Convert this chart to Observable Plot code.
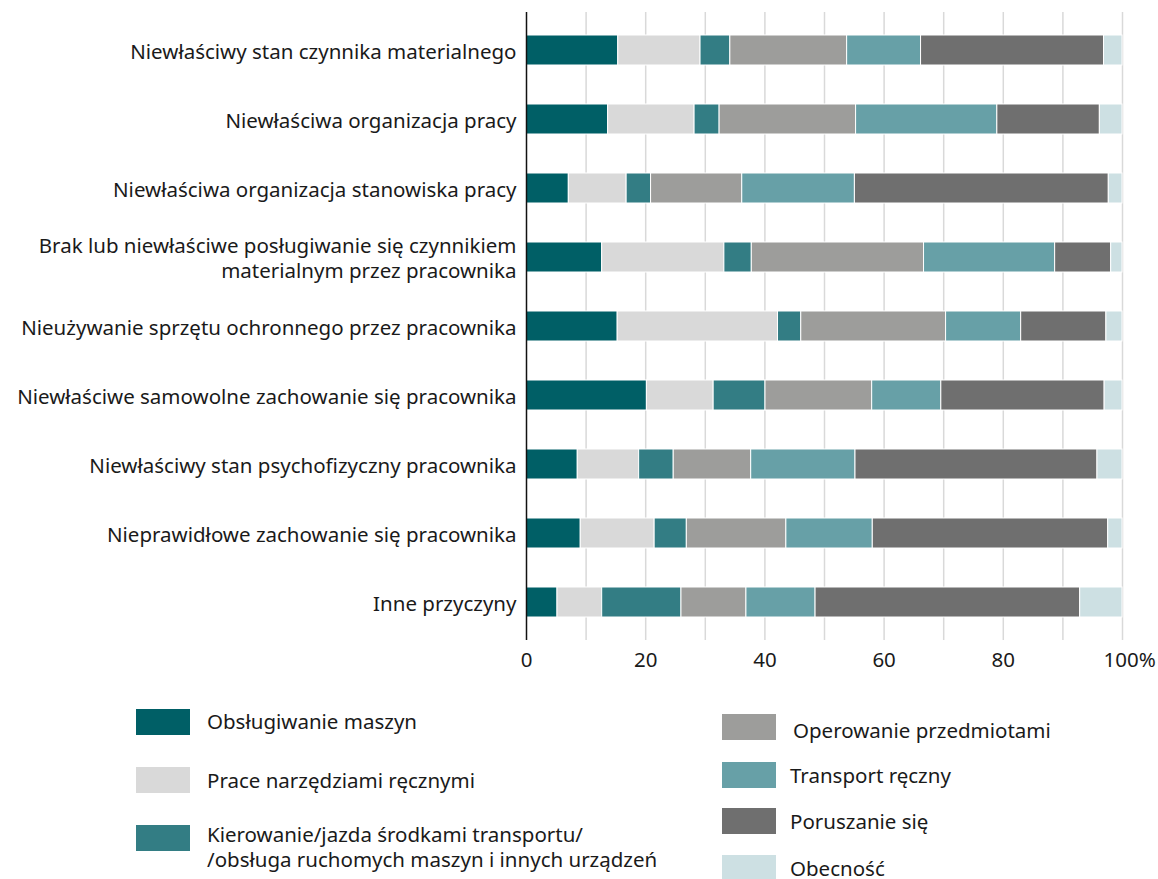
<!DOCTYPE html>
<html><head><meta charset="utf-8">
<script src="https://cdn.jsdelivr.net/npm/d3@7"></script>
<script src="https://cdn.jsdelivr.net/npm/@observablehq/plot@0.6"></script>
<style>
body{margin:0;background:#fff;font-family:"Noto Sans",sans-serif;color:#1a1a1a}
#wrap{position:relative;width:1158px;height:879px;overflow:hidden}
#chart{position:absolute;left:0;top:0}
.sw{position:absolute;width:54px;height:26px}
.lt{position:absolute;font-size:20.5px;line-height:25px;white-space:nowrap;color:#1a1a1a}
</style></head><body><div id="wrap"><div id="chart"></div></div>
<script>
const categories = [
  "Niewłaściwy stan czynnika materialnego",
  "Niewłaściwa organizacja pracy",
  "Niewłaściwa organizacja stanowiska pracy",
  "Brak lub niewłaściwe posługiwanie się czynnikiem\nmaterialnym przez pracownika",
  "Nieużywanie sprzętu ochronnego przez pracownika",
  "Niewłaściwe samowolne zachowanie się pracownika",
  "Niewłaściwy stan psychofizyczny pracownika",
  "Nieprawidłowe zachowanie się pracownika",
  "Inne przyczyny"
];
const series = [
  "Obsługiwanie maszyn",
  "Prace narzędziami ręcznymi",
  "Kierowanie/jazda środkami transportu/\n/obsługa ruchomych maszyn i innych urządzeń",
  "Operowanie przedmiotami",
  "Transport ręczny",
  "Poruszanie się",
  "Obecność"
];
const colors = ["#005f66", "#d9d9d9", "#337d84", "#9d9d9b", "#67a0a7", "#6f6f6f", "#cde0e3"];

const obslugiwanieMaszyn   = [15.4, 13.7,  7.1, 12.7, 15.3, 20.2,  8.6,  9.1,  5.2];
const praceNarzedziami     = [13.8, 14.5,  9.7, 20.5, 26.9, 11.2, 10.3, 12.4,  7.5];
const kierowanieJazda      = [ 5.0,  4.2,  4.1,  4.6,  3.9,  8.7,  5.8,  5.4, 13.3];
const operowaniePrzedm     = [19.6, 22.9, 15.3, 28.9, 24.3, 17.9, 13.0, 16.7, 10.9];
const transportReczny      = [12.4, 23.7, 18.9, 22.0, 12.6, 11.6, 17.5, 14.5, 11.6];
const poruszanieSie        = [30.7, 17.2, 42.6,  9.4, 14.3, 27.4, 40.6, 39.5, 44.4];
const obecnosc             = [ 3.1,  3.8,  2.3,  1.9,  2.7,  3.0,  4.2,  2.4,  7.1];
const seriesValues = [obslugiwanieMaszyn, praceNarzedziami, kierowanieJazda, operowaniePrzedm, transportReczny, poruszanieSie, obecnosc];

const xTickLabels = ["0", "20", "40", "60", "80"];
const xTickValues = [0, 20, 40, 60, 80];
const lastTickLabel = "100%";

const data = categories.flatMap((c, i) => series.map((s, j) => ({category: c, series: s, value: seriesValues[j][i]})));

const FONT = '"Noto Sans", sans-serif';
const FS = 20.5;

const chart = Plot.plot({
  width: 1158,
  height: 690,
  marginLeft: 526,
  marginRight: 36,
  marginTop: 12,
  marginBottom: 50,
  x: {domain: [0, 100], axis: null},
  y: {domain: categories, paddingInner: 0.57, paddingOuter: 0.285, axis: null},
  color: {domain: series, range: colors},
  style: {fontFamily: FONT, fontSize: FS + "px", color: "#1a1a1a", background: "white"},
  marks: [
    Plot.gridX(d3.range(10, 101, 10), {stroke: "#d9d9d9", strokeOpacity: 1, strokeWidth: 1.5}),
    Plot.barX(data, Plot.stackX({y: "category", x: "value", fill: "series", stroke: "white", strokeWidth: 1, order: null})),
    Plot.ruleX([0], {stroke: "#111", strokeWidth: 1.5}),
    Plot.axisX({ticks: xTickValues, tickFormat: d => xTickLabels[xTickValues.indexOf(d)], tickSize: 0, tickPadding: 12, fontSize: FS, fill: "#1a1a1a", label: null}),
    Plot.text([100], {x: d => d, text: () => lastTickLabel, frameAnchor: "bottom", textAnchor: "start", lineAnchor: "top", dx: -19, dy: 12, fontSize: FS, fill: "#1a1a1a"}),
    Plot.text(categories, {y: d => d, text: d => d, frameAnchor: "left", textAnchor: "end", dx: -10, lineHeight: 1.22, fontSize: FS, fill: "#1a1a1a"})
  ]
});
document.getElementById("chart").appendChild(chart);

// Legend
const wrap = document.getElementById("wrap");
const legendPos = [
  {sx: 136, sy: 709, tx: 207, ty: 709},
  {sx: 136, sy: 767, tx: 207, ty: 768},
  {sx: 136, sy: 825, tx: 207, ty: 822},
  {sx: 722, sy: 714, tx: 793, ty: 718},
  {sx: 722, sy: 762, tx: 790, ty: 763},
  {sx: 722, sy: 808, tx: 790, ty: 809},
  {sx: 722, sy: 855, tx: 790, ty: 856}
];
series.forEach((s, i) => {
  const p = legendPos[i];
  const sw = document.createElement("div");
  sw.className = "sw";
  sw.style.left = p.sx + "px"; sw.style.top = p.sy + "px"; sw.style.background = colors[i];
  wrap.appendChild(sw);
  const t = document.createElement("div");
  t.className = "lt";
  t.style.left = p.tx + "px"; t.style.top = p.ty + "px";
  t.innerHTML = s.split("\n").join("<br>");
  wrap.appendChild(t);
});
</script></body></html>
